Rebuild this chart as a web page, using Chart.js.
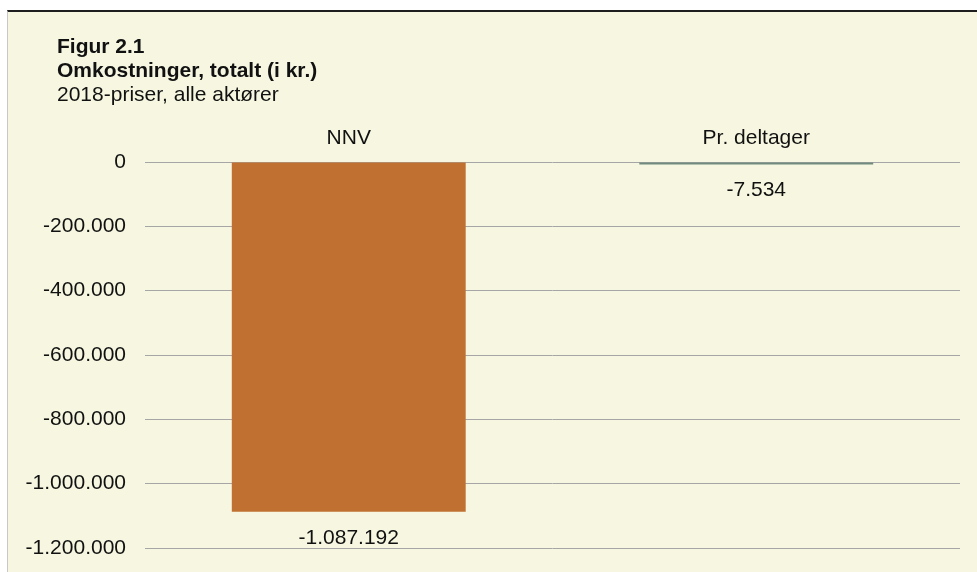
<!DOCTYPE html>
<html>
<head>
<meta charset="utf-8">
<script src="https://cdn.jsdelivr.net/npm/chart.js@4/dist/chart.umd.min.js"></script>
<style>
  body { margin: 0; background: #fff; }
  #panel {
    position: absolute; left: 7px; top: 10px; width: 970px; height: 562px;
    box-sizing: border-box; background: #F7F7E1;
    border-top: 2px solid #1e1e1e; border-left: 1px solid #c8c8c8;
  }
  #wrap { position: absolute; left: 0; top: 0; width: 977px; height: 572px; }
</style>
</head>
<body>
<div id="panel"></div>
<div id="wrap"><canvas id="myChart"></canvas></div>
<script>
const categories = ['NNV', 'Pr. deltager'];
const values = [-1087192, -7534];
const barColors = ['#C07030', '#718B7F'];
const titleLines = ['Figur 2.1', 'Omkostninger, totalt (i kr.)', '2018-priser, alle aktører'];
const yTicks = [0, -200000, -400000, -600000, -800000, -1000000, -1200000];

const FONT = "'Liberation Sans', Arial, sans-serif";

// tusindtalsseparator med punktum
function fmt(v) {
  const s = Math.abs(Math.round(v)).toString().replace(/\B(?=(\d{3})+(?!\d))/g, '.');
  return (v < 0 ? '-' : '') + s;
}

// titel i venstre hjørne
const titlePlugin = {
  id: 'titleText',
  afterDraw(chart) {
    const ctx = chart.ctx;
    ctx.save();
    ctx.fillStyle = '#111';
    ctx.textAlign = 'left';
    ctx.textBaseline = 'middle';
    const ys = [47, 71, 95];
    titleLines.forEach((t, i) => {
      ctx.font = (i < 2 ? 'bold ' : '') + '21px ' + FONT;
      ctx.fillText(t, 57, ys[i]);
    });
    ctx.restore();
  }
};

// værdier under søjlerne
const labelPlugin = {
  id: 'barLabels',
  afterDatasetsDraw(chart) {
    const ctx = chart.ctx;
    const meta = chart.getDatasetMeta(0);
    ctx.save();
    ctx.fillStyle = '#111';
    ctx.font = '21px ' + FONT;
    ctx.textAlign = 'center';
    ctx.textBaseline = 'middle';
    meta.data.forEach((bar, i) => {
      ctx.fillText(fmt(values[i]), bar.x, bar.y + 26);
    });
    ctx.restore();
  }
};

const config = {
  type: 'bar',
  data: {
    labels: categories,
    datasets: [{
      data: values,
      backgroundColor: barColors,
      borderWidth: 0,
      categoryPercentage: 1,
      barPercentage: 0.574,
    }],
  },
  options: {
    responsive: true,
    maintainAspectRatio: false,
    animation: false,
    layout: { padding: { left: 0, top: 0, right: 17, bottom: 24 } },
    plugins: { legend: { display: false }, tooltip: { enabled: false } },
    scales: {
      x: {
        position: 'top',
        grid: { display: false, drawTicks: false },
        border: { display: false },
        ticks: { color: '#111', padding: 11, font: { size: 21, family: FONT } },
        afterFit: s => { s.height = 162; },
      },
      y: {
        min: -1200000,
        max: 0,
        grid: { color: '#A6A6A6', lineWidth: 1, drawTicks: false },
        border: { display: false },
        afterBuildTicks: s => { s.ticks = yTicks.map(v => ({ value: v })); },
        ticks: {
          color: '#111', padding: 19,
          font: { size: 21, family: FONT },
          callback: v => fmt(v),
        },
        afterFit: s => { s.width = 145; s.paddingTop = 0; s.paddingBottom = 0; },
      },
    },
  },
  plugins: [titlePlugin, labelPlugin],
};

var myChart = new Chart(document.getElementById('myChart'), config);
</script>
</body>
</html>
